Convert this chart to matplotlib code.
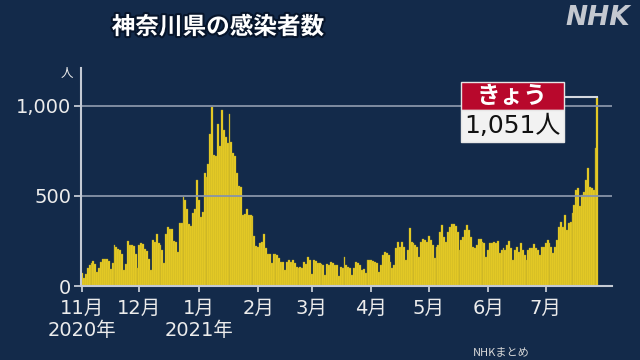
import numpy as np
import pandas as pd
import matplotlib
matplotlib.use('Agg')
import matplotlib.pyplot as plt
import matplotlib.patheffects as pe
from matplotlib.patches import Rectangle

# 神奈川県の新規感染者数（日別）2020/11/1 〜 2021/7/28
nov = [70, 45, 65, 100, 115, 130, 140, 120, 75, 100, 135, 150, 148, 148,
       140, 95, 125, 230, 215, 205, 200, 175, 90, 120, 250, 225, 230, 220,
       180, 100]
dec = [225, 240, 235, 205, 195, 150, 90, 255, 245, 290, 240, 230, 200, 125,
       290, 325, 315, 315, 250, 245, 190, 350, 350, 495, 480, 430, 345, 335,
       405, 430, 590]
jan = [480, 385, 410, 625, 605, 680, 845, 995, 730, 720, 900, 775, 980, 865,
       830, 795, 955, 800, 740, 720, 625, 555, 550, 395, 400, 430, 395, 395,
       390, 275, 220]
feb = [215, 240, 245, 290, 210, 180, 180, 125, 180, 180, 170, 155, 135, 135,
       90, 135, 145, 135, 145, 125, 105, 100, 105, 100, 135, 120, 160, 145]
mar = [65, 145, 140, 130, 125, 120, 115, 60, 120, 118, 135, 130, 118, 115,
       55, 107, 100, 160, 118, 108, 98, 60, 98, 135, 126, 117, 90, 95,
       70, 145, 145]
apr = [145, 140, 135, 125, 80, 117, 172, 190, 181, 170, 135, 98, 117, 209,
       246, 218, 246, 218, 144, 200, 320, 246, 237, 228, 218, 163, 246, 259,
       255, 246]
may = [278, 255, 228, 154, 218, 228, 302, 339, 274, 246, 302, 329, 343, 344,
       333, 302, 200, 255, 274, 311, 339, 311, 274, 215, 209, 228, 259, 259,
       246, 240, 163]
jun = [200, 237, 237, 246, 237, 252, 181, 200, 209, 200, 228, 252, 209, 144,
       200, 218, 190, 237, 200, 172, 144, 200, 209, 209, 233, 209, 200, 170,
       215, 218]
jul = [237, 256, 237, 218, 181, 218, 256, 330, 357, 330, 394, 311, 348, 357,
       404, 450, 533, 543, 445, 506, 524, 589, 654, 552, 543, 533, 765, 1051]

cases = nov + dec + jan + feb + mar + apr + may + jun + jul
start = pd.Timestamp('2020-11-01')
month_starts = pd.date_range('2020-11-01', '2021-07-01', freq='MS')
month_labels = ['11月\n2020年', '12月', '1月\n2021年', '2月', '3月', '4月',
                '5月', '6月', '7月']

bg = '#132a4a'
axis_col = '#c4cad4'
text_col = '#ececec'

plt.rcParams['font.family'] = ['DejaVu Sans', 'Noto Sans CJK JP']

days = np.arange(len(cases))
tick_pos = (month_starts - start).days

fig = plt.figure(figsize=(6.4, 3.6), dpi=100, facecolor=bg)
ax = fig.add_axes([81 / 640, 74 / 360, 531 / 640, 218 / 360])
ax.set_facecolor(bg)

ax.bar(days, cases, width=1.0, color='#f0d224', edgecolor='#a89a2a',
       linewidth=0.25, zorder=2)
for v in (500, 1000):
    ax.axhline(v, color='#8894a8', lw=1.3, zorder=3)

ax.set_xlim(-0.5, 276.6)
ax.set_ylim(0, 1211)

for s in ('top', 'right'):
    ax.spines[s].set_visible(False)
for s in ('left', 'bottom'):
    ax.spines[s].set_color(axis_col)
    ax.spines[s].set_linewidth(1.5)
    ax.spines[s].set_zorder(4)

ax.set_yticks([0, 500, 1000])
ax.set_yticklabels(['0', '500', '1,000'])
ax.tick_params(axis='y', length=5, width=1.3, color=axis_col,
               labelcolor=text_col, labelsize=14, pad=2)
ax.set_xticks(tick_pos)
ax.set_xticklabels(month_labels, linespacing=1.25)
ax.tick_params(axis='x', length=4, width=1.3, color=axis_col,
               labelcolor=text_col, labelsize=14, pad=5)

# きょうの値の吹き出し
ax.plot([252, days[-1]], [cases[-1], cases[-1]], color='#d4d8e0', lw=1.5,
        zorder=4, clip_on=False)
fig.add_artist(Rectangle((461 / 640, 250 / 360), 103 / 640, 28 / 360,
                         transform=fig.transFigure, facecolor='#b8082c',
                         edgecolor='#e6e6e6', lw=1))
fig.add_artist(Rectangle((461 / 640, 218 / 360), 103 / 640, 32 / 360,
                         transform=fig.transFigure, facecolor='#f2f2f2',
                         edgecolor='#e6e6e6', lw=1))
fig.text(512.5 / 640, 1 - 96 / 360, 'きょう', color='white', fontsize=17,
         fontweight='bold', family='Noto Sans CJK JP', ha='center', va='center')
fig.text(512.5 / 640, 1 - 126 / 360, f'{cases[-1]:,}人', color='#111111',
         fontsize=18, ha='center', va='center')

title = fig.text(218 / 640, 1 - 27 / 360, '神奈川県の感染者数', color='white',
                 fontsize=17, fontweight='bold', family='Noto Sans CJK JP',
                 ha='center', va='center')
title.set_path_effects([pe.withStroke(linewidth=3, foreground='#07152b')])

fig.text(67 / 640, 1 - 73 / 360, '人', color=text_col, fontsize=9,
         family='Noto Sans CJK JP', ha='center', va='center')
fig.text(598 / 640, 1 - 18 / 360, 'NHK', color='#c4c8d0', fontsize=19,
         fontweight='bold', style='italic', ha='center', va='center')
fig.text(501 / 640, 1 - 352 / 360, 'NHKまとめ', color='#d8d8d8', fontsize=8,
         family='Noto Sans CJK JP', ha='center', va='center')

fig.savefig('out.png', dpi=100, facecolor=bg)
